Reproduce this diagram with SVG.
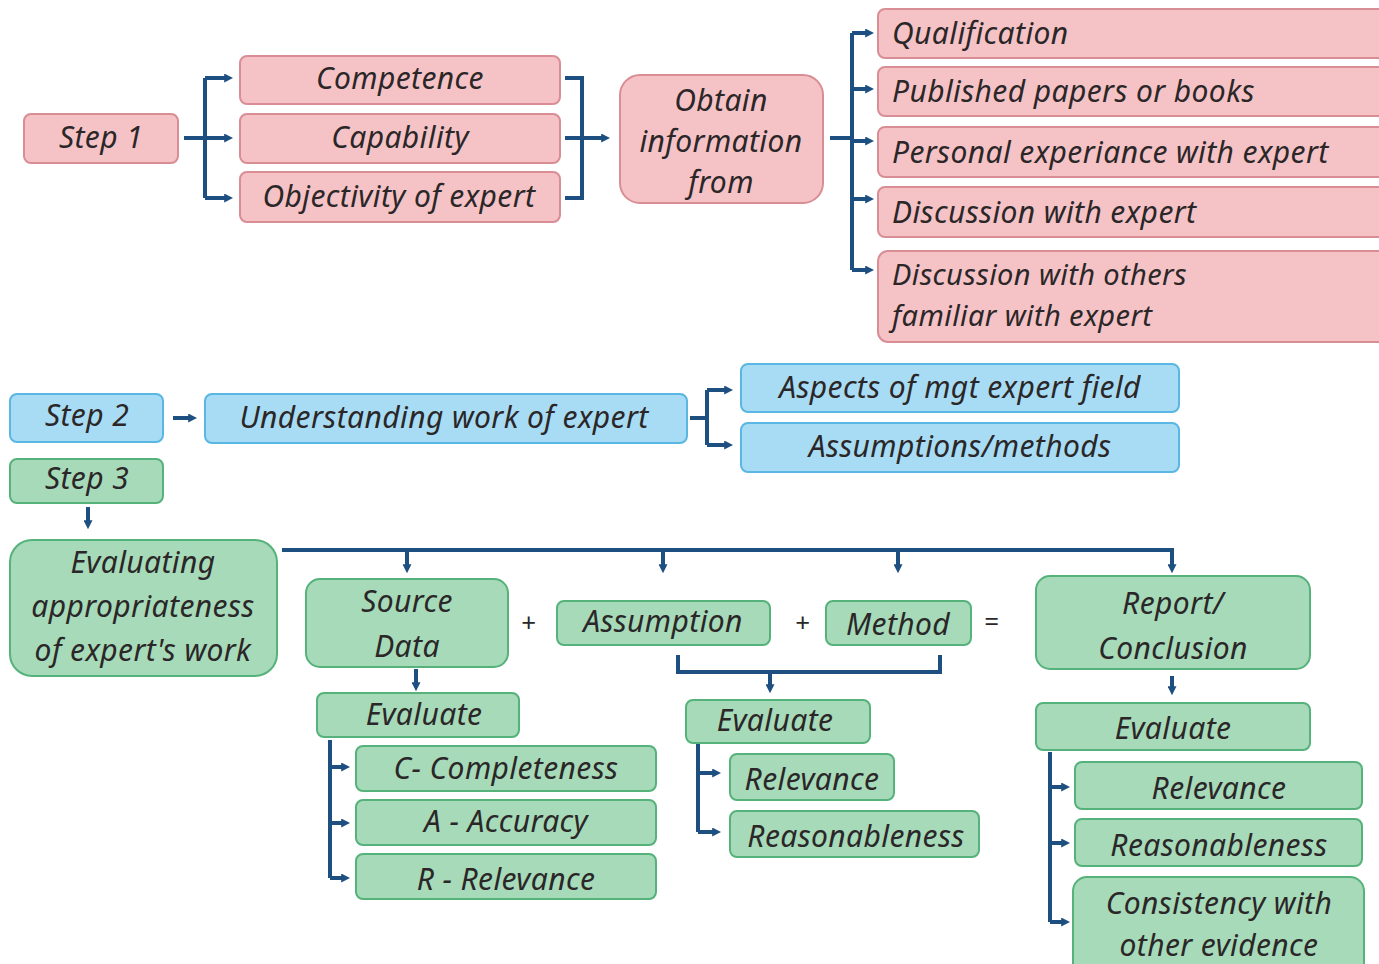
<svg xmlns="http://www.w3.org/2000/svg" width="1379" height="964" viewBox="0 0 1379 964">
  <defs>
    <style>
      text { font-family: "Noto Sans", "DejaVu Sans", sans-serif; font-style: italic; fill: #2b2728; font-size: 30px; letter-spacing: 0.4px; dominant-baseline: central; }
      .c { text-anchor: middle; }
      .l { text-anchor: start; }
      .op { font-size: 26px; font-style: normal; }
      .tight { font-size: 29px; }
      .pink { fill: #f5c3c6; stroke: #d98d95; stroke-width: 2; }
      .blue { fill: #a8dcf4; stroke: #5ab6e2; stroke-width: 2; }
      .green { fill: #a6dab9; stroke: #55b27a; stroke-width: 2; }
      .wire { fill: none; stroke: #1d4f80; stroke-width: 4; }
      .arr { fill: none; stroke: #1d4f80; stroke-width: 4; marker-end: url(#head); }
    </style>
    <marker id="head" viewBox="0 0 10 10" refX="2" refY="5" markerWidth="9" markerHeight="9" markerUnits="userSpaceOnUse" orient="auto">
      <path d="M0,0 L10,5 L0,10 z" fill="#1d4f80"/>
    </marker>
  </defs>
  <rect width="1379" height="964" fill="#ffffff"/>

  <!-- connectors -->
  <g id="connectors">
    <!-- step 1 fan-out -->
    <path class="wire" d="M184,138 H205 M205,78 V198"/>
    <path class="arr" d="M205,78 H226"/>
    <path class="arr" d="M205,138 H226"/>
    <path class="arr" d="M205,198 H226"/>
    <!-- merge into obtain information -->
    <path class="wire" d="M565,78 H582 V198 H565 M565,138 H582"/>
    <path class="arr" d="M582,138 H603"/>
    <!-- information sources -->
    <path class="wire" d="M830,138 H852 M852,33 V270"/>
    <path class="arr" d="M852,33 H867"/>
    <path class="arr" d="M852,89 H867"/>
    <path class="arr" d="M852,141 H867"/>
    <path class="arr" d="M852,199 H867"/>
    <path class="arr" d="M852,270 H867"/>
    <!-- step 2 -->
    <path class="arr" d="M173,418 H190"/>
    <path class="wire" d="M690,418 H707 M707,390 V445"/>
    <path class="arr" d="M707,390 H726"/>
    <path class="arr" d="M707,445 H726"/>
    <!-- step 3 -->
    <path class="arr" d="M88,507 V522"/>
    <path class="wire" d="M282,550 H1174"/>
    <path class="arr" d="M407,550 V566"/>
    <path class="arr" d="M663,550 V566"/>
    <path class="arr" d="M898,550 V566"/>
    <path class="arr" d="M1172,550 V566"/>
    <!-- assumption + method bracket -->
    <path class="wire" d="M678,655 V672 H940 V655"/>
    <path class="arr" d="M770,672 V686"/>
    <!-- source data evaluation -->
    <path class="arr" d="M416,669 V684"/>
    <path class="wire" d="M330,740 V878"/>
    <path class="arr" d="M330,767 H343"/>
    <path class="arr" d="M330,823 H343"/>
    <path class="arr" d="M330,878 H343"/>
    <!-- assumption / method evaluation -->
    <path class="wire" d="M698,744 V832"/>
    <path class="arr" d="M698,773 H714"/>
    <path class="arr" d="M698,832 H714"/>
    <!-- report evaluation -->
    <path class="arr" d="M1172,676 V688"/>
    <path class="wire" d="M1050,752 V922"/>
    <path class="arr" d="M1050,787 H1063"/>
    <path class="arr" d="M1050,843 H1063"/>
    <path class="arr" d="M1050,922 H1063"/>
  </g>

  <!-- operators between work components -->
  <g id="operators">
    <text class="c op" x="529" y="622">+</text>
    <text class="c op" x="803" y="622">+</text>
    <text class="c op" x="992" y="621">=</text>
  </g>

  <!-- step 1 -->
  <g id="step1"><rect class="pink" x="24" y="114" width="154" height="49" rx="7"/><text class="c" x="101" y="136">Step 1</text></g>
  <g id="competence"><rect class="pink" x="240" y="56" width="320" height="48" rx="7"/><text class="c" x="400" y="77">Competence</text></g>
  <g id="capability"><rect class="pink" x="240" y="114" width="320" height="49" rx="7"/><text class="c" x="400" y="136">Capability</text></g>
  <g id="objectivity"><rect class="pink" x="240" y="172" width="320" height="50" rx="7"/><text class="c" x="399" y="195">Objectivity of expert</text></g>
  <g id="obtain-info"><rect class="pink" x="620" y="75" width="203" height="128" rx="20"/>
    <text class="c" x="721" y="99">Obtain</text><text class="c" x="721" y="140">information</text><text class="c" x="721" y="181">from</text></g>
  <g id="qualification"><rect class="pink" x="878" y="9" width="520" height="49" rx="7"/><text class="l" x="892" y="32">Qualification</text></g>
  <g id="published"><rect class="pink" x="878" y="67" width="520" height="49" rx="7"/><text class="l" x="892" y="90">Published papers or books</text></g>
  <g id="personal"><rect class="pink" x="878" y="127" width="520" height="50" rx="7"/><text class="l" x="892" y="151">Personal experiance with expert</text></g>
  <g id="discussion-expert"><rect class="pink" x="878" y="187" width="520" height="50" rx="7"/><text class="l" x="892" y="211">Discussion with expert</text></g>
  <g id="discussion-others"><rect class="pink" x="878" y="251" width="520" height="91" rx="10"/>
    <text class="l tight" x="892" y="273">Discussion with others</text><text class="l tight" x="892" y="314">familiar with expert</text></g>

  <!-- step 2 -->
  <g id="step2"><rect class="blue" x="10" y="394" width="153" height="48" rx="7"/><text class="c" x="87" y="414">Step 2</text></g>
  <g id="understanding"><rect class="blue" x="205" y="394" width="482" height="49" rx="7"/><text class="c" x="444" y="416">Understanding work of expert</text></g>
  <g id="aspects"><rect class="blue" x="741" y="364" width="438" height="48" rx="7"/><text class="c" x="960" y="386">Aspects of mgt expert field</text></g>
  <g id="assumptions-methods"><rect class="blue" x="741" y="423" width="438" height="49" rx="7"/><text class="c" x="960" y="445">Assumptions/methods</text></g>

  <!-- step 3 -->
  <g id="step3"><rect class="green" x="10" y="459" width="153" height="44" rx="7"/><text class="c" x="87" y="477">Step 3</text></g>
  <g id="evaluating"><rect class="green" x="10" y="540" width="267" height="136" rx="22"/>
    <text class="c" x="143" y="561">Evaluating</text><text class="c" x="143" y="605">appropriateness</text><text class="c" x="143" y="649">of expert's work</text></g>
  <g id="source-data"><rect class="green" x="306" y="579" width="202" height="88" rx="14"/>
    <text class="c" x="407" y="600">Source</text><text class="c" x="407" y="645">Data</text></g>
  <g id="assumption"><rect class="green" x="557" y="601" width="213" height="44" rx="7"/><text class="c" x="663" y="620">Assumption</text></g>
  <g id="method"><rect class="green" x="826" y="601" width="145" height="44" rx="7"/><text class="c" x="898" y="623">Method</text></g>
  <g id="report"><rect class="green" x="1036" y="576" width="274" height="93" rx="14"/>
    <text class="c" x="1173" y="602">Report/</text><text class="c" x="1173" y="647">Conclusion</text></g>

  <g id="evaluate-source"><rect class="green" x="317" y="693" width="202" height="44" rx="7"/><text class="c" x="424" y="713">Evaluate</text></g>
  <g id="completeness"><rect class="green" x="356" y="746" width="300" height="45" rx="7"/><text class="c" x="506" y="767">C- Completeness</text></g>
  <g id="accuracy"><rect class="green" x="356" y="800" width="300" height="45" rx="7"/><text class="c" x="506" y="820">A - Accuracy</text></g>
  <g id="relevance-source"><rect class="green" x="356" y="854" width="300" height="45" rx="7"/><text class="c" x="506" y="878">R - Relevance</text></g>

  <g id="evaluate-method"><rect class="green" x="686" y="700" width="184" height="43" rx="7"/><text class="c" x="775" y="719">Evaluate</text></g>
  <g id="relevance-method"><rect class="green" x="730" y="754" width="164" height="46" rx="7"/><text class="c" x="812" y="778">Relevance</text></g>
  <g id="reasonableness-method"><rect class="green" x="730" y="811" width="249" height="46" rx="7"/><text class="c" x="856" y="835">Reasonableness</text></g>

  <g id="evaluate-report"><rect class="green" x="1036" y="703" width="274" height="47" rx="7"/><text class="c" x="1173" y="727">Evaluate</text></g>
  <g id="relevance-report"><rect class="green" x="1075" y="762" width="287" height="47" rx="7"/><text class="c" x="1219" y="787">Relevance</text></g>
  <g id="reasonableness-report"><rect class="green" x="1075" y="819" width="287" height="47" rx="7"/><text class="c" x="1219" y="844">Reasonableness</text></g>
  <g id="consistency"><rect class="green" x="1073" y="877" width="291" height="100" rx="14"/>
    <text class="c" x="1219" y="902">Consistency with</text><text class="c" x="1219" y="944">other evidence</text></g>
</svg>
